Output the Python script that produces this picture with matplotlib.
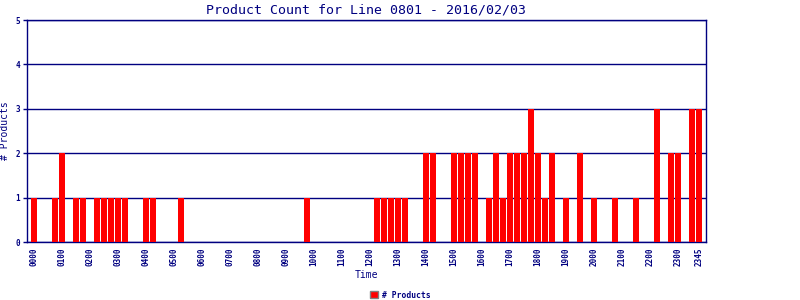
import matplotlib.pyplot as plt
import numpy as np

# 15-minute bins over the day, 0000 .. 2345
slots = [f"{h:02d}{m:02d}" for h in range(24) for m in (0, 15, 30, 45)]
counts = [
    1, 0, 0, 1, 2, 0, 1, 1, 0, 1, 1, 1, 1, 1, 0, 0,  # 0000-0345
    1, 1, 0, 0, 0, 1, 0, 0, 0, 0, 0, 0, 0, 0, 0, 0,  # 0400-0745
    0, 0, 0, 0, 0, 0, 0, 1, 0, 0, 0, 0, 0, 0, 0, 0,  # 0800-1145
    0, 1, 1, 1, 1, 1, 0, 0, 2, 2, 0, 0, 2, 2, 2, 2,  # 1200-1545
    0, 1, 2, 1, 2, 2, 2, 3, 2, 1, 2, 0, 1, 0, 2, 0,  # 1600-1945
    1, 0, 0, 1, 0, 0, 1, 0, 0, 3, 0, 2, 2, 0, 3, 3,  # 2000-2345
]
tick_labels = [s for s in slots if s.endswith("00")] + ["2345"]

NAVY = "#000080"
plt.rcParams["font.family"] = ["DejaVu Sans Mono"]

fig = plt.figure(figsize=(8, 3), dpi=100)
ax = fig.add_axes([27 / 800, 58 / 300, 679 / 800, 222 / 300])

x = np.arange(len(slots))
ax.bar(x, counts, width=0.82, color="#ff0000", label="# Products", zorder=3)

ax.set_xlim(-0.97, len(slots) - 0.03)
ax.set_ylim(0, 5)
ax.set_yticks(range(6))
ax.grid(axis="y", color=NAVY, linewidth=1.0, zorder=1)
for s in ax.spines.values():
    s.set_color(NAVY)
    s.set_linewidth(1.0)

tick_pos = [slots.index(t) for t in tick_labels]
ax.set_xticks(tick_pos)
ax.set_xticklabels(tick_labels, rotation=90, fontsize=5.5, fontweight="bold", color=NAVY)
ax.tick_params(axis="x", length=0, pad=4)
ax.tick_params(axis="y", length=3, width=1, color=NAVY, labelcolor=NAVY, labelsize=5.5, pad=2)
for lbl in ax.get_yticklabels():
    lbl.set_fontweight("bold")

ax.set_title("Product Count for Line 0801 - 2016/02/03", fontsize=9.5, color=NAVY, pad=5)
ax.set_xlabel("Time", fontsize=7, color=NAVY, labelpad=3)
ax.set_ylabel("# Products", fontsize=7, color=NAVY)
ax.yaxis.set_label_coords(-17 / 679, 0.5)

leg = fig.legend(loc="center", bbox_to_anchor=(400 / 800, 1 - 295 / 300), frameon=False,
                 handlelength=1.1, handleheight=0.9, handletextpad=0.4,
                 prop={"weight": "bold", "size": 5.8})
for t in leg.get_texts():
    t.set_color(NAVY)
leg.legend_handles[0].set_edgecolor("#808080")

fig.savefig("out.png", dpi=100)
